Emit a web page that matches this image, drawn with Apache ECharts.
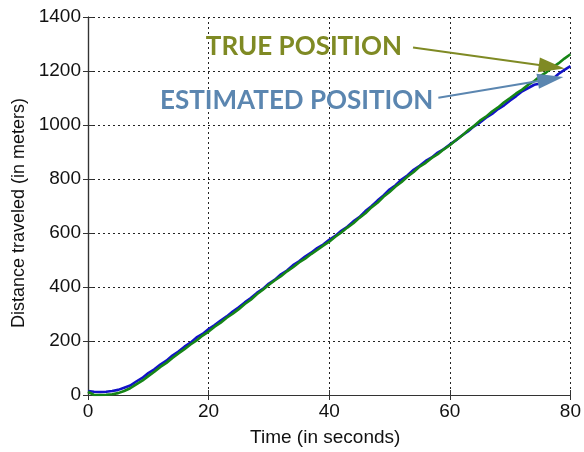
<!DOCTYPE html>
<html><head><meta charset="utf-8">
<script src="https://cdn.jsdelivr.net/npm/echarts@6/dist/echarts.min.js"></script>
<style>html,body{margin:0;padding:0;background:#fff}#c{width:584px;height:452px}</style>
</head><body><div id="c"></div>
<script>
const times = [0,1,2,3,4,5,6,7,8,9,10,11,12,13,14,15,16,17,18,19,20,21,22,23,24,25,26,27,28,29,30,31,32,33,34,35,36,37,38,39,40,41,42,43,44,45,46,47,48,49,50,51,52,53,54,55,56,57,58,59,60,61,62,63,64,65,66,67,68,69,70,71,72,73,74,75,76,77,78,79,80];
const truePos = [12,0,0,1,3,7,15,25,39,53,70,86,104,119,137,154,170,187,202,220,235,253,268,286,301,318,337,353,373,390,408,425,440,458,473,491,505,522,537,553,568,586,602,620,636,656,673,695,712,734,752,772,789,809,826,846,860,878,892,910,925,944,960,980,996,1016,1031,1050,1065,1084,1100,1117,1131,1149,1163,1181,1195,1213,1228,1246,1262];
const estPos = [15,12,11,12,15,19,27,35,50,63,81,95,113,127,146,161,179,194,213,226,244,259,276,291,309,325,343,359,378,393,413,427,447,461,481,495,513,527,544,557,575,589,608,623,643,659,681,699,720,739,761,777,798,814,834,849,867,880,898,911,928,943,961,976,995,1009,1027,1041,1059,1073,1091,1107,1125,1137,1149,1154,1163,1169,1189,1204,1218];
const xTicks = [0,20,40,60,80];
const yTicks = [0,200,400,600,800,1000,1200,1400];
const annotations = [
  {text:'TRUE POSITION', color:'#7f8a24', label:[35.8,1291], from:[53.9,1287], to:[76.9,1216]},
  {text:'ESTIMATED POSITION', color:'#5b86b0', label:[34.6,1090], from:[58.1,1101], to:[76.7,1170]}
];

const chart = echarts.init(document.getElementById('c'), null, {renderer:'canvas'});
const tickFont = {fontFamily:'"Liberation Sans", Arial, sans-serif', fontSize:19, color:'#111'};
const axisCommon = (show) => ({
  axisLine:{show:true, lineStyle:{color:'#333', width:1.2}},
  axisTick:{show:true, inside:true, length:5, lineStyle:{color:'#333'}},
  splitLine:{show:show, lineStyle:{color:'#222', type:[2,3], width:1}}
});
const toPair = (arr, vals) => arr.map((t,i)=>[t, vals[i]]);

chart.setOption({
  animation:false,
  grid:{left:88, right:10, top:17, bottom:51, show:false},
  xAxis:[
    Object.assign({type:'value', min:0, max:80, interval:20, position:'bottom',
      name:'Time (in seconds)', nameLocation:'middle', nameGap:33,
      nameTextStyle:Object.assign({}, tickFont, {padding:[0,8,0,0]}),
      axisLabel:Object.assign({margin:7, formatter:v=>xTicks.includes(v)?String(v):''}, tickFont)}, axisCommon(true)),
    Object.assign({type:'value', min:0, max:80, interval:20, position:'top', axisLabel:{show:false}}, axisCommon(false))
  ],
  yAxis:[
    Object.assign({type:'value', min:0, max:1400, interval:200, position:'left',
      name:'Distance traveled (in meters)', nameLocation:'middle', nameGap:59,
      nameTextStyle:Object.assign({}, tickFont, {fontSize:18, padding:[0,14,0,0]}),
      axisLabel:Object.assign({margin:7, formatter:v=>yTicks.includes(v)?String(v):''}, tickFont)}, axisCommon(true)),
    Object.assign({type:'value', min:0, max:1400, interval:200, position:'right', axisLabel:{show:false}}, axisCommon(false))
  ],
  series:[
    {type:'line', name:'Estimated', data:toPair(times, estPos), showSymbol:false, lineStyle:{color:'#1212c8', width:2.6}, z:2},
    {type:'line', name:'True', data:toPair(times, truePos), showSymbol:false, lineStyle:{color:'#168516', width:2.6}, z:3,
      markLine:{silent:true, symbol:['none','triangle'], symbolSize:[15,26], animation:false,
        label:{show:false},
        data:annotations.map(a=>[{coord:a.from, lineStyle:{color:a.color, width:2, type:'solid'}, itemStyle:{color:a.color}},{coord:a.to}])}
    }
  ]
});

function placeText(){
  const els = annotations.map(a=>{
    const p = chart.convertToPixel({xAxisIndex:0, yAxisIndex:0}, a.label);
    return {type:'text', x:p[0], y:p[1], z:10,
      style:{text:a.text, fill:a.color, font:'bold 26px Lato, "Open Sans", sans-serif', textAlign:'center', textVerticalAlign:'middle'}};
  });
  chart.setOption({graphic:els});
}
placeText();
</script></body></html>
